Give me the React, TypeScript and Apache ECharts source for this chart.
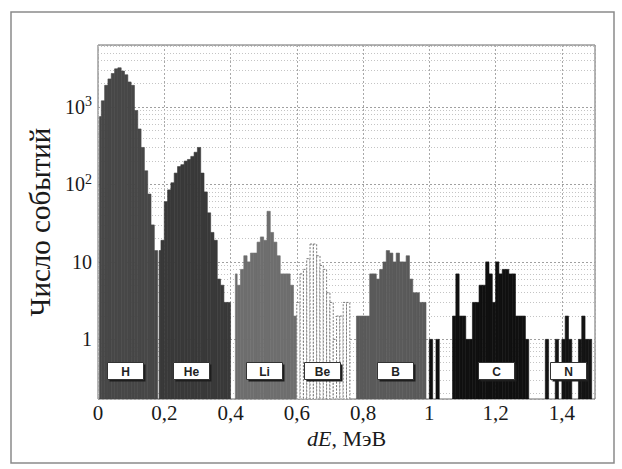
import React, { useEffect, useRef } from 'react';
import * as echarts from 'echarts';

// ---- data ----
const BIN = 0.01; // MeV per histogram bin
const Y_MIN = 0.17;
const Y_MAX = 6300;

const hStart = 0.0;
const hCounts = [750, 1200, 1900, 2300, 2700, 3100, 3200, 2900, 2600, 2100, 1900, 900, 520, 300, 150, 75, 30, 14];

const heStart = 0.18;
const heCounts = [14, 19, 60, 85, 105, 140, 170, 180, 200, 210, 230, 260, 300, 140, 80, 43, 24, 19, 6, 5, 3, 3];

const liStart = 0.41;
const liCounts = [7, 5, 8, 12, 10, 13, 13, 18, 21, 19, 45, 24, 18, 12, 7, 7, 7, 5, 2];

const beStart = 0.6;
const beCounts = [3, 7, 8, 11, 17, 17, 12, 9, 8, 4, 3, 1, 2, 2, 3, 3];

const bStart = 0.78;
const bCounts = [2, 2, 2, 2, 7, 7, 6, 8, 10, 14, 13, 10, 13, 10, 10, 12, 6, 4, 4, 3, 3];

const cStart = 1.0;
const cCounts = [1, 0, 1, 0, 0, 0, 0, 2, 7, 2, 2, 1, 1, 3, 3, 5, 5, 10, 7, 3, 10, 7, 8, 8, 7, 7, 2, 2, 2, 1];

const nStart = 1.35;
const nCounts = [1, 0, 0, 1, 0, 1, 2, 1, 0, 0, 1, 2, 1, 1];

const elementNames = ['H', 'He', 'Li', 'Be', 'B', 'C', 'N'];
const elementLabelX = [0.08, 0.28, 0.5, 0.675, 0.895, 1.2, 1.42];
const labelLevel = 0.4;

const yDecades = [1, 10, 100, 1000];
const minorSteps = [2, 3, 4, 5, 6, 7, 8, 9];

const groups = [
  { start: hStart, counts: hCounts, fill: '#474747', stroke: '#474747', dash: null as number[] | null },
  { start: heStart, counts: heCounts, fill: '#393939', stroke: '#393939', dash: null },
  { start: liStart, counts: liCounts, fill: '#6e6e6e', stroke: '#6e6e6e', dash: null },
  { start: beStart, counts: beCounts, fill: '#ffffff', stroke: '#7a7a7a', dash: [2, 1.5] },
  { start: bStart, counts: bCounts, fill: '#5a5a5a', stroke: '#5a5a5a', dash: null },
  { start: cStart, counts: cCounts, fill: '#101010', stroke: '#101010', dash: null },
  { start: nStart, counts: nCounts, fill: '#141414', stroke: '#141414', dash: null },
];

function buildBins(start: number, counts: number[]) {
  const out: number[][] = [];
  counts.forEach((c, i) => {
    if (c > 0) {
      const x0 = +(start + i * BIN).toFixed(4);
      out.push([x0, +(x0 + BIN).toFixed(4), c, i === 0 ? 1 : 0]);
    }
  });
  return out;
}

const gridLineValues: number[] = [];
yDecades.forEach((d) => minorSteps.forEach((m) => {
  const v = d * m;
  if (v < Y_MAX) gridLineValues.push(v);
}));
[0.2, 0.3, 0.4, 0.5, 0.6, 0.7, 0.8, 0.9].forEach((v) => { if (v > Y_MIN) gridLineValues.push(v); });

const SERIF = '"Liberation Serif", "DejaVu Serif", serif';
const SANS = '"Liberation Sans", Arial, sans-serif';

export default function App() {
  const ref = useRef<HTMLDivElement>(null);
  useEffect(() => {
    if (!ref.current) return;
    const chart = echarts.init(ref.current, undefined, { renderer: 'svg' });

    const barSeries = groups.map((g, gi) => ({
      type: 'custom',
      name: elementNames[gi],
      z: 10,
      clip: true,
      encode: { x: [0, 1], y: 2 },
      data: buildBins(g.start, g.counts),
      renderItem: (params: any, api: any) => {
        const x0 = api.value(0);
        const x1 = api.value(1);
        const c = api.value(2);
        const first = api.value(3);
        const top = api.coord([x0, c]);
        const bot = api.coord([x1, Y_MIN]);
        let left = top[0];
        if (first && gi < 3) left += 1.5;
        return {
          type: 'rect',
          shape: { x: left, y: top[1], width: bot[0] - left, height: bot[1] - top[1] },
          style: {
            fill: g.fill,
            stroke: g.stroke,
            lineWidth: g.dash ? 1 : 0.6,
            lineDash: g.dash || undefined,
          },
        };
      },
    }));

    const labelData = elementNames.map((n, i) => [elementLabelX[i], labelLevel]);

    const option: any = {
      animation: false,
      backgroundColor: '#ffffff',
      grid: {
        left: 98,
        right: 27,
        top: 45,
        bottom: 70,
        show: true,
        borderColor: '#6a6a6a',
        borderWidth: 1,
        backgroundColor: 'transparent',
      },
      xAxis: {
        type: 'value',
        min: 0,
        max: 1.5,
        interval: 0.2,
        name: '{i|dE}, МэВ',
        nameLocation: 'middle',
        nameGap: 28,
        nameTextStyle: {
          fontFamily: SERIF,
          fontSize: 22,
          color: '#1a1a1a',
          rich: { i: { fontStyle: 'italic', fontFamily: SERIF, fontSize: 22, color: '#1a1a1a' } },
        },
        axisLine: { show: false },
        axisTick: { show: false },
        axisLabel: {
          margin: 3,
          fontFamily: SERIF,
          fontSize: 21,
          color: '#1a1a1a',
          showMaxLabel: false,
          formatter: (v: number) => {
            const r = Math.round(v * 10) / 10;
            if (Math.abs(r * 5 - Math.round(r * 5)) > 1e-6 || r > 1.41) return '';
            return String(r).replace('.', ',');
          },
        },
        splitLine: { show: true, lineStyle: { color: '#a8a8a8', type: [2, 2], width: 1 } },
      },
      yAxis: {
        type: 'log',
        logBase: 10,
        min: Y_MIN,
        max: Y_MAX,
        name: 'Число событий',
        nameLocation: 'middle',
        nameGap: 37,
        nameTextStyle: { fontFamily: SERIF, fontSize: 29, color: '#1a1a1a' },
        axisLine: { show: false },
        axisTick: { show: false },
        axisLabel: {
          margin: 6,
          fontFamily: SERIF,
          fontSize: 20,
          color: '#1a1a1a',
          formatter: (v: number) => {
            const l = Math.log10(v);
            const e = Math.round(l);
            if (Math.abs(l - e) > 1e-6 || e < 0) return '';
            if (e === 0) return '1';
            if (e === 1) return '10';
            return '10{s|' + e + '}';
          },
          rich: {
            s: { fontFamily: SERIF, fontSize: 14, color: '#1a1a1a', verticalAlign: 'top', padding: [0, 0, 10, 0] },
          },
        },
        splitLine: { show: true, lineStyle: { color: '#a0a0a0', type: [2, 2], width: 1 } },
      },
      graphic: [
        {
          type: 'rect',
          shape: { x: 11, y: 12, width: 603, height: 451 },
          style: { fill: 'none', stroke: '#8a8a8a', lineWidth: 1.5 },
          silent: true,
        },
      ],
      series: [
        {
          type: 'line',
          data: [],
          z: 1,
          silent: true,
          markLine: {
            silent: true,
            symbol: ['none', 'none'],
            label: { show: false },
            z: 1,
            lineStyle: { color: '#c4c4c4', type: [1, 2], width: 1 },
            data: gridLineValues.map((v) => ({ yAxis: v })),
          },
        },
        ...barSeries,
        {
          type: 'custom',
          z: 20,
          silent: true,
          clip: false,
          encode: { x: 0, y: 1 },
          data: labelData,
          renderItem: (params: any, api: any) => {
            const p = api.coord([api.value(0), api.value(1)]);
            const w = 36;
            const h = 17;
            const x = Math.round(p[0] - w / 2) + 0.5;
            const y = Math.round(p[1] - h / 2) + 0.5;
            return {
              type: 'group',
              children: [
                { type: 'rect', shape: { x: x + 2, y: y + 2, width: w, height: h }, style: { fill: '#1e1e1e' } },
                { type: 'rect', shape: { x, y, width: w, height: h }, style: { fill: '#ffffff', stroke: '#333333', lineWidth: 1 } },
                {
                  type: 'text',
                  x: x + w / 2,
                  y: y + h / 2 + 0.5,
                  style: {
                    text: elementNames[params.dataIndex],
                    fill: '#222222',
                    fontFamily: SANS,
                    fontWeight: 'bold',
                    fontSize: 12,
                    align: 'center',
                    verticalAlign: 'middle',
                  },
                },
              ],
            };
          },
        },
      ],
    };

    chart.setOption(option);
    return () => chart.dispose();
  }, []);

  return <div ref={ref} style={{ width: 622, height: 469, position: 'absolute', left: 0, top: 0 }} />;
}
